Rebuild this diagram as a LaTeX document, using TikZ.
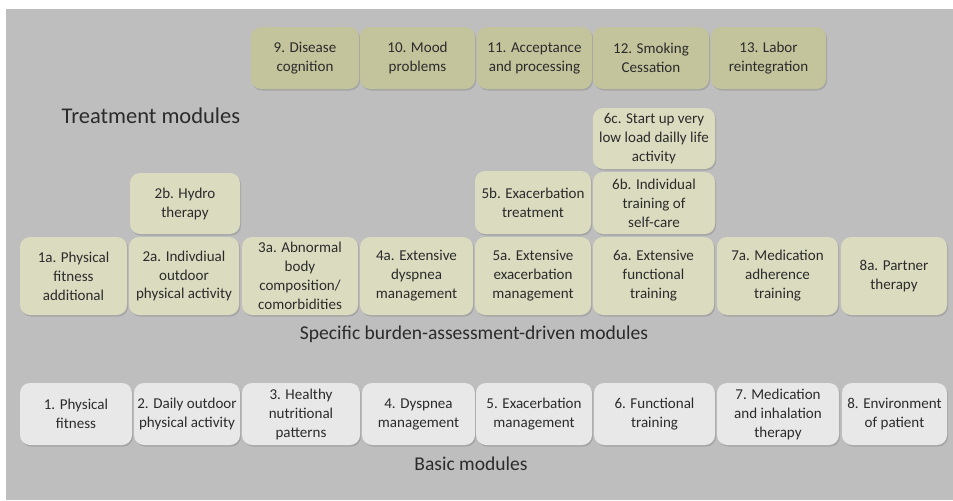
\documentclass[tikz,border=0pt]{standalone}
\usepackage{fontspec}
\setmainfont{Carlito}
\usepackage{xcolor}
\usepackage{tikz}
\usetikzlibrary{positioning,shadows}

\definecolor{bgGray}{HTML}{BEBEBE}
\definecolor{treatFill}{HTML}{C3C39C}
\definecolor{specFill}{HTML}{DBDBC0}
\definecolor{basicFill}{HTML}{E8E8E8}
\definecolor{txtDark}{HTML}{2B2B2B}

\begin{document}
\begin{tikzpicture}[x=0.025cm, y=-0.025cm,
  every node/.style={text=txtDark, align=center, inner sep=1pt},
  module/.style={rectangle, rounded corners=0.25cm,
    font=\fontsize{10.7}{13.5}\selectfont,
    drop shadow={shadow xshift=0.8pt, shadow yshift=-1.1pt, opacity=0.4}},
  treat/.style={module, fill=treatFill},
  spec/.style={module, fill=specFill},
  basic/.style={module, fill=basicFill},
  wh/.style 2 args={minimum width=#1*0.025cm, minimum height=#2*0.025cm},
  rowlabel/.style={font=\fontsize{13.9}{17}\selectfont}]

  \useasboundingbox (0,0) rectangle (953,500);
  \fill[bgGray] (6,9) rectangle (953,500);

  % treatment modules
  \node[treat, wh={108}{62}] (t9) at (305,58) {9. Disease\\cognition};
  \node[treat, wh={115}{62}] (t10) at (417.5,58) {10. Mood\\problems};
  \node[treat, wh={115}{62}] (t11) at (534.5,58) {11. Acceptance\\and processing};
  \node[treat, wh={116}{62}] (t12) at (651,58) {12. Smoking\\Cessation};
  \node[treat, wh={115}{62}] (t13) at (768.5,58) {13. Labor\\reintegration};
  \node[rowlabel, font=\fontsize{16}{19}\selectfont, anchor=west] (treatlbl) at (60,116) {Treatment modules};

  % specific burden-assessment-driven modules
  \node[spec, wh={107}{78}] (s1a) at (73.5,276) {1a. Physical\\fitness\\additional};
  \node[spec, wh={110}{78}] (s2a) at (184,276) {2a. Indivdiual\\outdoor\\physical activity};
  \node[spec, wh={116}{78}] (s3a) at (300,276) {3a. Abnormal\\body\\composition/\\comorbidities};
  \node[spec, wh={113}{78}] (s4a) at (416.5,276) {4a. Extensive\\dyspnea\\management};
  \node[spec, wh={116}{78}] (s5a) at (533,276) {5a. Extensive\\exacerbation\\management};
  \node[spec, wh={121}{78}] (s6a) at (653.5,276) {6a. Extensive\\functional\\training};
  \node[spec, wh={121}{78}] (s7a) at (777.5,276) {7a. Medication\\adherence\\training};
  \node[spec, wh={106}{78}] (s8a) at (894,276) {8a. Partner\\therapy};

  \node[spec, wh={110}{61}] (s2b) at (185,203.5) {2b. Hydro\\therapy};
  \node[spec, wh={116}{63}] (s5b) at (533,202.5) {5b. Exacerbation\\treatment};
  \node[spec, wh={122}{62}] (s6b) at (654,203) {6b. Individual\\training of\\self-care};
  \node[spec, wh={122}{61}] (s6c) at (654,138.5) {6c. Start up very\\low load dailly life\\activity};
  \node[rowlabel] (speclbl) at (474,334) {Specific burden-assessment-driven modules};

  % basic modules
  \node[basic, wh={112}{62}] (b1) at (76,414) {1. Physical\\fitness};
  \node[basic, wh={106}{62}] (b2) at (187,414) {2. Daily outdoor\\physical activity};
  \node[basic, wh={118}{62}] (b3) at (301,414) {3. Healthy\\nutritional\\patterns};
  \node[basic, wh={113}{62}] (b4) at (418.5,414) {4. Dyspnea\\management};
  \node[basic, wh={116}{62}] (b5) at (534,414) {5. Exacerbation\\management};
  \node[basic, wh={121}{62}] (b6) at (654.5,414) {6. Functional\\training};
  \node[basic, wh={122}{62}] (b7) at (778,414) {7. Medication\\and inhalation\\therapy};
  \node[basic, wh={105}{62}] (b8) at (894.5,414) {8. Environment\\of patient};
  \node[rowlabel] (basiclbl) at (471,464) {Basic modules};
\end{tikzpicture}
\end{document}
